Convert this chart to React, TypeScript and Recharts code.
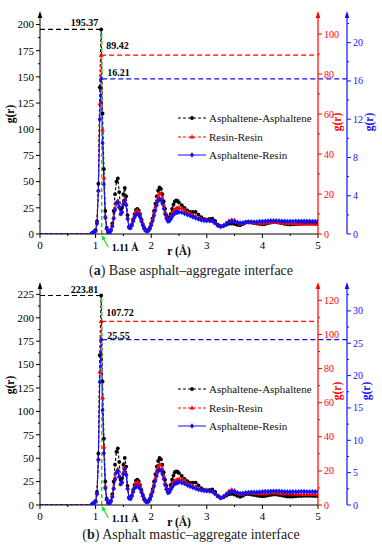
import React from "react"
import { LineChart, Line, XAxis, YAxis, ReferenceLine, Legend } from "recharts"

const FONT = "'Liberation Serif', 'Times New Roman', serif"
const RED = "#ff0000"
const BLUE = "#1010ff"
const GREEN = "#22dd22"

// r (Å)
const rValues = [
  0, 0.9, 0.925, 0.95, 0.975, 1.0, 1.025, 1.05, 1.075, 1.1,
  1.125, 1.15, 1.175, 1.2, 1.225, 1.25, 1.275, 1.3, 1.325, 1.35,
  1.375, 1.4, 1.425, 1.45, 1.475, 1.5, 1.525, 1.55, 1.575, 1.6,
  1.625, 1.65, 1.675, 1.7, 1.725, 1.75, 1.775, 1.8, 1.825, 1.85,
  1.875, 1.9, 1.925, 1.95, 1.975, 2.0, 2.025, 2.05, 2.075, 2.1,
  2.125, 2.15, 2.175, 2.2, 2.225, 2.25, 2.275, 2.3, 2.325, 2.35,
  2.375, 2.4, 2.425, 2.45, 2.475, 2.5, 2.55, 2.6, 2.65, 2.7,
  2.75, 2.8, 2.85, 2.9, 2.95, 3.0, 3.05, 3.1, 3.15, 3.2,
  3.25, 3.3, 3.35, 3.4, 3.45, 3.5, 3.55, 3.6, 3.65, 3.7,
  3.75, 3.8, 3.85, 3.9, 3.95, 4.0, 4.05, 4.1, 4.15, 4.2,
  4.25, 4.3, 4.35, 4.4, 4.45, 4.5, 4.55, 4.6, 4.65, 4.7,
  4.75, 4.8, 4.85, 4.9, 4.95, 5.0,
]

// (a) base asphalt
const aAsphAsph = [
  0, 0, 0.4, 1.2, 2.5, 4, 12, 48, 140, 195.37,
  115, 62, 22, 6, 2, 1.5, 4, 10, 22, 38,
  50, 53, 40, 24, 25, 38, 44, 36, 18, 7,
  6, 9, 14, 19, 23, 24, 22.5, 19, 14, 9.5,
  6, 4, 3.5, 4, 6, 10, 15, 22, 29, 36,
  41.5, 44.4, 43, 38, 31, 24, 18, 15, 15.5, 19,
  24, 28, 31, 32, 31.5, 30, 27.5, 25, 22.5, 21,
  21, 21, 18.5, 16, 14.5, 13.8, 14.3, 14.7, 12.5, 9,
  7.4, 7.8, 8.8, 9.8, 10, 9.5, 8.7, 8.3, 9.5, 11.2,
  11.5, 11, 10.5, 10, 9.5, 9.3, 9.5, 10.2, 11, 11.5,
  11.5, 11, 10.3, 9.6, 9.2, 9, 9.2, 9.4, 9.6, 9.8,
  10, 10, 10, 10, 9.8, 9.8,
]
const aResRes = [
  0, 0, 0.2, 0.5, 1.0, 1.6, 5.5, 22, 65, 89.42,
  52, 28, 9, 2.8, 1, 0.8, 2, 4.5, 8.5, 13,
  16, 16.7, 14, 10, 11, 15.5, 17.6, 15, 8, 3.5,
  3, 4.5, 7, 9.5, 11.2, 11.7, 11, 9.5, 7, 4.8,
  3, 2, 1.7, 2, 3, 5, 7.5, 10.5, 13.5, 16.5,
  19, 20.6, 20, 17.8, 14.5, 11, 8.5, 7.2, 7.3, 8.3,
  9.8, 11.2, 12.2, 12.8, 13, 13.1, 12.9, 12, 11, 10.1,
  9.6, 8.8, 8, 7.5, 7.2, 7.1, 6.9, 6.5, 5.5, 4.3,
  3.75, 4.3, 5.5, 6.6, 7.1, 6.8, 5.9, 5.1, 5.3, 5.9,
  6.0, 5.9, 5.7, 5.5, 5.4, 5.4, 5.5, 5.7, 5.9, 6,
  5.9, 5.7, 5.5, 5.4, 5.4, 5.4, 5.3, 5.2, 5.2, 5.1,
  5.1, 5.1, 5.1, 5.1, 5.1, 5.0,
]
const aAsphRes = [
  0, 0, 0.04, 0.1, 0.2, 0.35, 1.1, 4.5, 12, 16.21,
  9.5, 5.2, 1.7, 0.55, 0.2, 0.15, 0.4, 0.8, 1.6, 2.5,
  3.2, 3.3, 2.8, 2.1, 2.3, 3.1, 3.5, 3.0, 1.6, 0.7,
  0.65, 0.9, 1.3, 1.7, 2.0, 2.1, 2.0, 1.75, 1.3, 0.9,
  0.55, 0.35, 0.3, 0.35, 0.55, 0.9, 1.35, 1.9, 2.45, 3.0,
  3.45, 3.65, 3.55, 3.2, 2.65, 2.05, 1.6, 1.33, 1.35, 1.55,
  1.8, 2.0, 2.15, 2.25, 2.28, 2.3, 2.26, 2.15, 2.0, 1.9,
  1.78, 1.67, 1.55, 1.47, 1.41, 1.39, 1.38, 1.35, 1.15, 0.88,
  0.76, 0.85, 1.05, 1.25, 1.32, 1.3, 1.22, 1.15, 1.17, 1.21,
  1.25, 1.27, 1.27, 1.27, 1.3, 1.32, 1.34, 1.36, 1.38, 1.39,
  1.39, 1.37, 1.35, 1.33, 1.32, 1.32, 1.32, 1.33, 1.34, 1.34,
  1.34, 1.33, 1.33, 1.32, 1.32, 1.32,
]

// (b) asphalt mastic
const bAsphAsph = [
  0, 0, 0.5, 1.4, 2.8, 4.5, 14, 55, 160, 223.81,
  132, 71, 25, 7, 2.3, 1.7, 4.5, 11.5, 25, 43,
  57, 60.5, 46, 27, 28.5, 43, 50.3, 41, 20.5, 8,
  6.8, 10.2, 16, 21.5, 26, 27, 25.5, 21.5, 16, 10.8,
  6.8, 4.5, 4, 4.5, 6.8, 11.3, 17, 25, 33, 41,
  47, 50.3, 48.7, 43, 35, 27, 20.5, 16, 16.5, 21.5,
  27, 31.5, 35, 36, 35.5, 34, 31, 28, 25.5, 24,
  24, 24, 21, 18, 16.3, 15.7, 16.2, 16.6, 14, 10,
  7.5, 8.3, 10, 11.3, 11.8, 11, 9.7, 8.8, 9.8, 11.4,
  11.7, 11.2, 10.6, 10.1, 9.6, 9.3, 9.5, 10.2, 10.8, 11.2,
  11.2, 10.7, 10.1, 9.5, 9.1, 8.9, 9.1, 9.3, 9.5, 9.6,
  9.8, 9.8, 9.8, 9.7, 9.6, 9.6,
]
const bResRes = [
  0, 0, 0.25, 0.6, 1.2, 2, 6.7, 27, 78, 107.72,
  63, 34, 11, 3.4, 1.2, 1, 2.4, 5.5, 10.4, 16,
  19.5, 21, 17, 12.2, 13.4, 19, 21.8, 18.3, 9.8, 4.3,
  3.7, 5.5, 8.2, 11, 13, 13.5, 12.7, 11, 8.1, 5.6,
  3.5, 2.3, 2, 2.3, 3.5, 5.9, 8.8, 12.3, 15.8, 19.3,
  22.2, 24, 23.4, 20.8, 17, 12.9, 9.9, 8, 8.2, 9.7,
  11.5, 13.1, 14.2, 14.6, 14.8, 15.3, 15, 14, 12.8, 11.8,
  11.3, 10.5, 9.5, 9.0, 8.8, 8.7, 8.4, 7.9, 6.6, 5.1,
  4.3, 5.1, 6.6, 8.3, 9.0, 8.5, 7.3, 6.3, 6.5, 7.2,
  7.3, 7.2, 7.0, 6.7, 6.6, 6.6, 6.7, 6.9, 7.2, 7.3,
  7.2, 6.9, 6.7, 6.6, 6.6, 6.6, 6.5, 6.3, 6.3, 6.2,
  6.2, 6.2, 6.2, 6.2, 6.2, 6.1,
]
const bAsphRes = [
  0, 0, 0.06, 0.15, 0.3, 0.55, 1.7, 7, 19, 25.55,
  14.7, 8, 2.6, 0.85, 0.3, 0.23, 0.6, 1.25, 2.5, 3.9,
  5.0, 5.25, 4.35, 3.25, 3.55, 4.8, 5.5, 4.65, 2.5, 1.1,
  1.0, 1.4, 2.0, 2.6, 2.8, 2.9, 2.8, 2.5, 1.95, 1.4,
  0.85, 0.55, 0.47, 0.55, 0.85, 1.35, 2.0, 2.85, 3.7, 4.5,
  5.2, 5.5, 5.35, 4.8, 4.0, 3.1, 2.4, 1.9, 1.95, 2.35,
  2.75, 3.05, 3.3, 3.4, 3.45, 3.55, 3.45, 3.3, 3.05, 2.85,
  2.7, 2.55, 2.4, 2.3, 2.2, 2.16, 2.14, 2.08, 1.75, 1.35,
  1.1, 1.3, 1.62, 1.95, 2.1, 2.05, 1.9, 1.8, 1.82, 1.88,
  1.94, 1.97, 1.97, 1.97, 2.0, 2.05, 2.08, 2.1, 2.13, 2.15,
  2.15, 2.12, 2.09, 2.06, 2.05, 2.05, 2.05, 2.06, 2.07, 2.08,
  2.08, 2.06, 2.06, 2.05, 2.05, 2.05,
]

const seriesNames = ["Asphaltene-Asphaltene", "Resin-Resin", "Asphaltene-Resin"]
const peakR = 1.1
const markR = 1.11

const xMajor = [0, 1, 2, 3, 4, 5]
const xMinor = [0.5, 1.5, 2.5, 3.5, 4.5]

const aLeftMajor = [0, 25, 50, 75, 100, 125, 150, 175, 200]
const aLeftMinor = [12.5, 37.5, 62.5, 87.5, 112.5, 137.5, 162.5, 187.5]
const aRedMajor = [0, 20, 40, 60, 80, 100]
const aRedMinor = [10, 30, 50, 70, 90]
const aBlueMajor = [0, 4, 8, 12, 16, 20]
const aBlueMinor = [2, 6, 10, 14, 18, 22]

const bLeftMajor = [0, 25, 50, 75, 100, 125, 150, 175, 200, 225]
const bLeftMinor = [12.5, 37.5, 62.5, 87.5, 112.5, 137.5, 162.5, 187.5, 212.5]
const bRedMajor = [0, 20, 40, 60, 80, 100, 120]
const bRedMinor = [10, 30, 50, 70, 90, 110]
const bBlueMajor = [0, 5, 10, 15, 20, 25, 30]
const bBlueMinor = [2.5, 7.5, 12.5, 17.5, 22.5, 27.5, 32.5]

const merge = (a: number[], b: number[]) => [...a, ...b].sort((p, q) => p - q)

const panels = [
  {
    top: 0,
    tag: "a",
    caption: " Base asphalt–aggregate interface",
    captionTop: 264,
    data: [aAsphAsph, aResRes, aAsphRes],
    leftMax: 210, redMax: 110, blueMax: 23,
    left: [aLeftMajor, aLeftMinor], red: [aRedMajor, aRedMinor], blue: [aBlueMajor, aBlueMinor],
    titles: { left: [-26, 100], red: [23, 108], blue: [26, 108] },
    labelDy: [-3.5, -6, -2.5],
    arrow: [-12.7, -1],
  },
  {
    top: 271,
    tag: "b",
    caption: " Asphalt mastic–aggregate interface",
    captionTop: 528,
    data: [bAsphAsph, bResRes, bAsphRes],
    leftMax: 235, redMax: 129, blueMax: 34,
    left: [bLeftMajor, bLeftMinor], red: [bRedMajor, bRedMinor], blue: [bBlueMajor, bBlueMinor],
    titles: { left: [-26, 100], red: [23, 106], blue: [23, 106] },
    labelDy: [-2, -5, -1],
    arrow: [-13.9, -1],
  },
]

const styles = [
  { key: "aa", axis: "left", color: "#000", dash: "3 2", shape: "circle" },
  { key: "rr", axis: "a-red", color: RED, dash: "3 2", shape: "triangle" },
  { key: "ar", axis: "b-blue", color: BLUE, dash: undefined, shape: "diamond" },
]

function Marker({ cx, cy, shape, color }: any) {
  if (shape === "circle") return <circle cx={cx} cy={cy} r={1.9} fill={color} />
  if (shape === "triangle")
    return <polygon points={`${cx},${cy - 2.6} ${cx - 2.4},${cy + 1.6} ${cx + 2.4},${cy + 1.6}`} fill={color} />
  return <polygon points={`${cx},${cy - 2.7} ${cx + 2.1},${cy} ${cx},${cy + 2.7} ${cx - 2.1},${cy}`} fill={color} />
}

function AxisTick(props: any) {
  const { x, y, payload, side, color, majors, fontSize } = props
  const v = payload.value
  const major = majors.includes(v)
  const len = major ? 4 : 2
  if (side === "bottom") {
    return (
      <g>
        <line x1={x} x2={x} y1={y} y2={y + len} stroke={color} />
        {major && (
          <text x={x} y={y + 15} textAnchor="middle" fontSize={fontSize} fontFamily={FONT} fill={color}>{v}</text>
        )}
      </g>
    )
  }
  const dir = side === "left" ? -1 : 1
  return (
    <g>
      <line x1={x} x2={x + dir * len} y1={y} y2={y} stroke={color} />
      {major && (
        <text x={x + dir * 6} y={y} dy="0.35em" textAnchor={side === "left" ? "end" : "start"}
          fontSize={fontSize} fontFamily={FONT} fill={color}>{v}</text>
      )}
    </g>
  )
}

function AxisDecor(props: any) {
  const { viewBox, side, color, dx, dy } = props
  if (!viewBox) return null
  const { x, y, width } = viewBox
  const lx = side === "left" ? x + width : x
  return (
    <g>
      <polygon points={`${lx},${y - 3} ${lx - 2.3},${y + 4} ${lx + 2.3},${y + 4}`} fill={color} />
      <text transform={`translate(${lx + dx},${y + dy}) rotate(-90)`} textAnchor="middle"
        fontSize={11.5} fontWeight="bold" fontFamily={FONT} fill={color}>g(r)</text>
    </g>
  )
}

function XTitle(props: any) {
  const vb = props.viewBox
  if (!vb) return null
  return (
    <text x={vb.x + vb.width / 2} y={vb.y + 21} textAnchor="middle" fontSize={11.5}
      fontWeight="bold" fontFamily={FONT} fill="#000">r (Å)</text>
  )
}

function PeakShape(props: any) {
  const { x1, y1, x2, y2, color, text, anchor, dy } = props
  const tx = anchor === "end" ? x2 - 3 : x1 + 5
  return (
    <g>
      <line x1={x1} y1={y1} x2={x2} y2={y2} stroke={color} strokeWidth={1.2} strokeDasharray="5 3" />
      <text x={tx} y={y1 + dy} textAnchor={anchor} fontSize={10} fontWeight="bold" fontFamily={FONT} fill="#000">{text}</text>
    </g>
  )
}

function ArrowShape(props: any) {
  const { x1, y1, x2, y2 } = props
  const ang = Math.atan2(y2 - y1, x2 - x1)
  const bx = x2 - 5 * Math.cos(ang)
  const by = y2 - 5 * Math.sin(ang)
  const px = -Math.sin(ang) * 2.2
  const py = Math.cos(ang) * 2.2
  return (
    <g>
      <line x1={x1} y1={y1} x2={bx} y2={by} stroke={GREEN} strokeWidth={1.2} />
      <polygon points={`${x2},${y2} ${bx + px},${by + py} ${bx - px},${by - py}`} fill={GREEN} />
      <text x={x1 + 3.5} y={y1 + 3.5} fontSize={10} fontWeight="bold" fontFamily={FONT} fill="#000">{`${markR} Å`}</text>
    </g>
  )
}

function LegendBox() {
  return (
    <div style={{ fontFamily: FONT, fontSize: 11, color: "#111" }}>
      {seriesNames.map((name, i) => (
        <div key={name} style={{ display: "flex", alignItems: "center", height: 18.5 }}>
          <svg width={28} height={10} style={{ display: "block" }}>
            <line x1={0} x2={28} y1={5} y2={5} stroke={styles[i].color} strokeDasharray={styles[i].dash} strokeWidth={1} />
            <Marker cx={14} cy={5} shape={styles[i].shape} color={styles[i].color} />
          </svg>
          <span style={{ marginLeft: 3, whiteSpace: "nowrap" }}>{name}</span>
        </div>
      ))}
    </div>
  )
}

function Panel({ cfg }: any) {
  const rows = rValues.map((r, i) => ({ r, aa: cfg.data[0][i], rr: cfg.data[1][i], ar: cfg.data[2][i] }))
  const peaks = [
    { axis: "left", y: cfg.data[0][9], from: 0, to: peakR, color: "#000", anchor: "end" },
    { axis: "a-red", y: cfg.data[1][9], from: peakR, to: 5, color: RED, anchor: "start" },
    { axis: "b-blue", y: cfg.data[2][9], from: peakR + 0.02, to: 5.52, color: BLUE, anchor: "start" },
  ]
  return (
    <div style={{ position: "absolute", left: 0, top: cfg.top }}>
      <LineChart width={382} height={260} data={rows} margin={{ top: 14, right: 5, bottom: 0, left: 6 }}>
        <XAxis dataKey="r" type="number" domain={[0, 5]} ticks={merge(xMajor, xMinor)} interval={0}
          allowDataOverflow tickSize={0} tickMargin={0} height={26} axisLine={{ stroke: "#000" }}
          tick={(p: any) => <AxisTick {...p} side="bottom" color="#000" majors={xMajor} fontSize={11} />}
          label={<XTitle />} />
        <YAxis yAxisId="left" orientation="left" width={34} domain={[0, cfg.leftMax]} allowDataOverflow
          ticks={merge(cfg.left[0], cfg.left[1])} interval={0} tickSize={0} tickMargin={0}
          axisLine={{ stroke: "#000" }}
          tick={(p: any) => <AxisTick {...p} side="left" color="#000" majors={cfg.left[0]} fontSize={11} />}
          label={<AxisDecor side="left" color="#000" dx={cfg.titles.left[0]} dy={cfg.titles.left[1]} />} />
        <YAxis yAxisId="b-blue" orientation="right" width={30} domain={[0, cfg.blueMax]} allowDataOverflow
          ticks={merge(cfg.blue[0], cfg.blue[1])} interval={0} tickSize={0} tickMargin={0}
          axisLine={{ stroke: BLUE, strokeWidth: 1.2 }}
          tick={(p: any) => <AxisTick {...p} side="right" color={BLUE} majors={cfg.blue[0]} fontSize={10} />}
          label={<AxisDecor side="right" color={BLUE} dx={cfg.titles.blue[0]} dy={cfg.titles.blue[1]} />} />
        <YAxis yAxisId="a-red" orientation="right" width={29} domain={[0, cfg.redMax]} allowDataOverflow
          ticks={merge(cfg.red[0], cfg.red[1])} interval={0} tickSize={0} tickMargin={0}
          axisLine={{ stroke: RED, strokeWidth: 1.2 }}
          tick={(p: any) => <AxisTick {...p} side="right" color={RED} majors={cfg.red[0]} fontSize={10} />}
          label={<AxisDecor side="right" color={RED} dx={cfg.titles.red[0]} dy={cfg.titles.red[1]} />} />
        {styles.map((s) => (
          <Line key={s.key} yAxisId={s.axis} dataKey={s.key} type="linear" stroke={s.color}
            strokeDasharray={s.dash} strokeWidth={1.1} activeDot={false} isAnimationActive={false}
            dot={(p: any) =>
              p.value === 0 ? <g key={`d-${s.key}-${p.index}`} /> :
                <Marker key={`d-${s.key}-${p.index}`} cx={p.cx} cy={p.cy} shape={s.shape} color={s.color} />
            } />
        ))}
        {peaks.map((pk, i) => (
          <ReferenceLine key={pk.axis} yAxisId={pk.axis} ifOverflow="visible"
            segment={[{ x: pk.from, y: pk.y }, { x: pk.to, y: pk.y }]}
            shape={(p: any) => <PeakShape {...p} color={pk.color} text={pk.y.toFixed(2)} anchor={pk.anchor} dy={cfg.labelDy[i]} />} />
        ))}
        <ReferenceLine yAxisId="left" ifOverflow="visible"
          segment={[{ x: markR, y: 0 }, { x: markR, y: cfg.data[0][9] }]}
          stroke={GREEN} strokeWidth={1.5} strokeDasharray="4 3" />
        <ReferenceLine yAxisId="left" ifOverflow="visible"
          segment={[{ x: 1.228, y: cfg.arrow[0] }, { x: markR, y: cfg.arrow[1] }]}
          shape={(p: any) => <ArrowShape {...p} />} />
        <Legend layout="vertical" align="center" verticalAlign="middle"
          wrapperStyle={{ left: 178, top: 109, width: 150 }} content={() => <LegendBox />} />
      </LineChart>
    </div>
  )
}

export default function App() {
  return (
    <div style={{ position: "absolute", left: 0, top: 0, width: 382, height: 550, background: "#fff", overflow: "hidden" }}>
      {panels.map((cfg) => (
        <Panel key={cfg.tag} cfg={cfg} />
      ))}
      {panels.map((cfg) => (
        <div key={`c-${cfg.tag}`} style={{ position: "absolute", left: 0, top: cfg.captionTop, width: 382, textAlign: "center",
          fontFamily: FONT, fontSize: 14, lineHeight: "14px", color: "#222", whiteSpace: "nowrap" }}>
          (<b>{cfg.tag}</b>){cfg.caption}
        </div>
      ))}
    </div>
  )
}
